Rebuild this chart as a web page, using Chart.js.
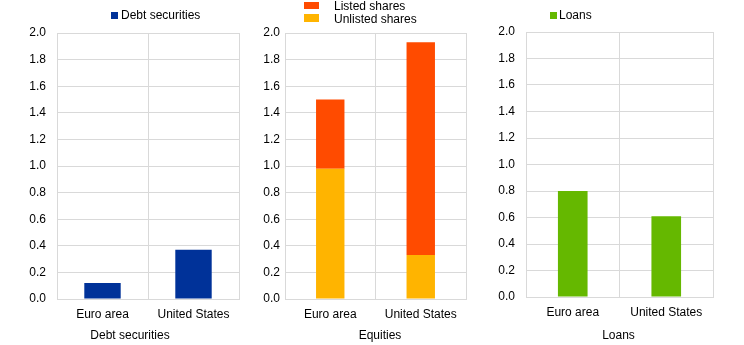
<!DOCTYPE html>
<html>
<head>
<meta charset="utf-8">
<script src="https://cdn.jsdelivr.net/npm/chart.js@4/dist/chart.umd.min.js"></script>
<style>
  html, body { margin: 0; padding: 0; background: #fff; }
  #wrap { position: relative; width: 744px; height: 345px; }
  #wrap canvas { position: absolute; left: 0; top: 0; }
</style>
</head>
<body>
<div id="wrap">
  <canvas id="c1" width="744" height="345"></canvas>
  <canvas id="c2" width="744" height="345"></canvas>
  <canvas id="c3" width="744" height="345"></canvas>
</div>
<script>
// ---- data ----
const categories = ['Euro area', 'United States'];
const debtSecurities = [0.12, 0.37];
const unlistedShares = [0.98, 0.33];
const listedShares = [0.52, 1.60];
const loans = [0.80, 0.61];
const panelTitles = ['Debt securities', 'Equities', 'Loans'];
const seriesLabels = ['Debt securities', 'Listed shares', 'Unlisted shares', 'Loans'];
const yMin = 0, yMax = 2.0, yStep = 0.2;

const FONT = '"Liberation Sans", Arial, sans-serif';
const GRID = '#d9d9d9';
const TXT = '#000000';

const decor = {
  id: 'decor',
  afterDraw(chart, args, opts) {
    const ctx = chart.ctx;
    ctx.save();
    ctx.font = '12px ' + FONT;
    ctx.textBaseline = 'middle';
    (opts.legend || []).forEach(it => {
      const ds = chart.data.datasets[it.ds];
      ctx.fillStyle = ds.backgroundColor;
      ctx.fillRect(it.bx, it.by, it.bw, it.bh);
      ctx.fillStyle = TXT;
      ctx.textAlign = 'left';
      ctx.fillText(ds.label, it.tx, it.ty);
    });
    if (opts.title) {
      ctx.fillStyle = TXT;
      ctx.textAlign = 'center';
      ctx.fillText(opts.title.text, opts.title.x, opts.title.y);
    }
    ctx.restore();
  }
};

function makeChart(id, geo, datasets, stacked, decorOpts, tickPad) {
  const Y_W = 40, X_H = 30;
  return new Chart(document.getElementById(id), {
    type: 'bar',
    data: { labels: categories, datasets: datasets },
    plugins: [decor],
    options: {
      responsive: false,
      animation: false,
      devicePixelRatio: 1,
      layout: {
        padding: {
          left: geo.left - Y_W,
          right: 744 - geo.right,
          top: geo.top,
          bottom: 345 - geo.bottom - X_H
        }
      },
      plugins: {
        legend: { display: false },
        title: { display: false },
        tooltip: { enabled: false },
        decor: decorOpts
      },
      scales: {
        x: {
          stacked: stacked,
          offset: true,
          grid: { color: GRID, lineWidth: 1, drawTicks: false, offset: true },
          border: { display: true, color: GRID, width: 1 },
          ticks: { color: TXT, font: { family: FONT, size: 12 }, padding: 8, maxRotation: 0, autoSkip: false },
          afterFit(s) { s.height = X_H; }
        },
        y: {
          stacked: stacked,
          min: yMin, max: yMax,
          grid: { color: GRID, lineWidth: 1, drawTicks: false },
          border: { display: true, color: GRID, width: 1 },
          ticks: {
            stepSize: yStep, color: TXT, font: { family: FONT, size: 12 }, padding: tickPad,
            callback: v => Number(v).toFixed(1)
          },
          afterFit(s) { s.width = Y_W; }
        }
      }
    }
  });
}

// Panel 1: Debt securities
makeChart('c1', { left: 57, right: 239, top: 33, bottom: 299 }, [
  { label: seriesLabels[0], data: debtSecurities, backgroundColor: '#003299',
    barPercentage: 0.40, categoryPercentage: 1.0 }
], false, {
  legend: [{ ds: 0, bx: 111, by: 12, bw: 7, bh: 7, tx: 121, ty: 16 }],
  title: { text: panelTitles[0], x: 130, y: 336 }
}, 11);

// Panel 2: Equities (stacked)
makeChart('c2', { left: 285, right: 466, top: 33, bottom: 299 }, [
  { label: seriesLabels[2], data: unlistedShares, backgroundColor: '#ffb400',
    barPercentage: 0.314, categoryPercentage: 1.0 },
  { label: seriesLabels[1], data: listedShares, backgroundColor: '#ff4b00',
    barPercentage: 0.314, categoryPercentage: 1.0 }
], true, {
  legend: [
    { ds: 1, bx: 304, by: 2, bw: 15, bh: 7, tx: 334, ty: 7 },
    { ds: 0, bx: 304, by: 14, bw: 15, bh: 8, tx: 334, ty: 20 }
  ],
  title: { text: panelTitles[1], x: 380, y: 336 }
}, 5);

// Panel 3: Loans
makeChart('c3', { left: 526, right: 713, top: 32, bottom: 297 }, [
  { label: seriesLabels[3], data: loans, backgroundColor: '#65b800',
    barPercentage: 0.317, categoryPercentage: 1.0 }
], false, {
  legend: [{ ds: 0, bx: 550, by: 12, bw: 7, bh: 7, tx: 559, ty: 16 }],
  title: { text: panelTitles[2], x: 618.5, y: 336 }
}, 11);
</script>
</body>
</html>
